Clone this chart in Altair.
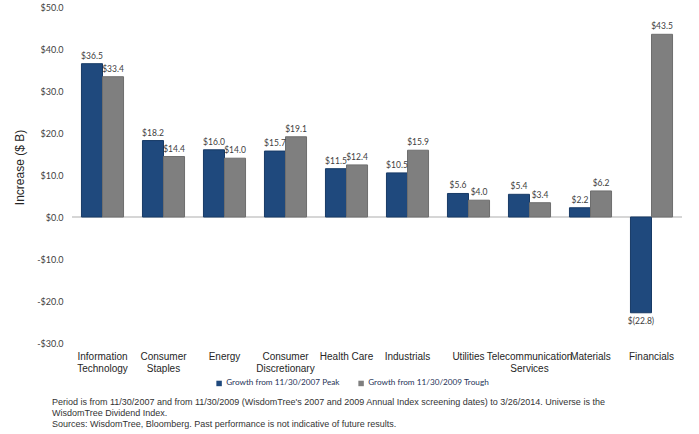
import altair as alt
import pandas as pd

categories = ["Information Technology", "Consumer Staples", "Energy", "Consumer Discretionary",
              "Health Care", "Industrials", "Utilities", "Telecommunication Services",
              "Materials", "Financials"]
peak = [36.5, 18.2, 16.0, 15.7, 11.5, 10.5, 5.6, 5.4, 2.2, -22.8]
trough = [33.4, 14.4, 14.0, 19.1, 12.4, 15.9, 4.0, 3.4, 6.2, 43.5]
series = ["Growth from 11/30/2007 Peak", "Growth from 11/30/2009 Trough"]
colors = ["#1F497D", "#7F7F7F"]
strokes = ["#173A66", "#6E6E6E"]
y_ticks = [-30, -20, -10, 0, 10, 20, 30, 40, 50]
footnote = [
    "Period is from 11/30/2007 and from 11/30/2009 (WisdomTree's 2007 and 2009 Annual Index screening dates) to 3/26/2014. Universe is the",
    "WisdomTree Dividend Index.",
    "Sources: WisdomTree, Bloomberg. Past performance is not indicative of future results.",
]

rows = []
for c, p, t in zip(categories, peak, trough):
    rows.append({"cat": c, "series": series[0], "v": p})
    rows.append({"cat": c, "series": series[1], "v": t})
df = pd.DataFrame(rows)

x_enc = alt.X("cat:N", sort=categories, title=None,
              scale=alt.Scale(paddingInner=0.31, paddingOuter=0.155),
              axis=alt.Axis(labelAngle=0, domain=False, ticks=False, labelPadding=8,
                            labelFont="Liberation Sans", labelFontSize=10, labelColor="#262626",
                            labelLineHeight=12, labelBaseline="top", labelLimit=200,
                            labelExpr="datum.label == 'Health Care' ? datum.label : split(datum.label, ' ')"))
xo_enc = alt.XOffset("series:N", sort=series, scale=alt.Scale(paddingInner=0, paddingOuter=0))
y_scale = alt.Scale(domain=[-30, 50], nice=False)

base = alt.Chart(df)

bars = base.mark_bar(strokeWidth=1).encode(
    x=x_enc,
    xOffset=xo_enc,
    y=alt.Y("v:Q", scale=y_scale, title="Increase ($ B)",
            axis=alt.Axis(values=y_ticks, grid=False, domain=False, ticks=False, labelPadding=9,
                          labelFont="Lato", labelFontSize=9, labelColor="#404040",
                          labelExpr="datum.value < 0 ? '-$' + format(-datum.value, '.1f') : '$' + format(datum.value, '.1f')",
                          titleFont="Liberation Sans", titleFontSize=12, titleFontWeight="normal",
                          titleColor="#262626", titleX=-53, titleY=160, titleAngle=-90,
                          titleAlign="center", titleBaseline="middle")),
    fill=alt.Fill("series:N", sort=series, scale=alt.Scale(domain=series, range=colors),
                  legend=alt.Legend(title=None, orient="none", legendX=143, legendY=372,
                                    direction="horizontal", symbolType="square", symbolSize=30,
                                    symbolStrokeWidth=0, labelFont="Lato", labelFontSize=8.2,
                                    labelColor="#1F3458", columnPadding=17, labelOffset=3)),
    stroke=alt.Stroke("series:N", scale=alt.Scale(domain=series, range=strokes), legend=None),
)

labels = base.transform_calculate(
    lab="datum.v < 0 ? '$(' + format(-datum.v, '.1f') + ')' : '$' + format(datum.v, '.1f')"
)
pos_labels = labels.transform_filter("datum.v >= 0").mark_text(
    baseline="bottom", dy=-3, font="Lato", fontSize=8.5, color="#404040"
).encode(x=alt.X("cat:N", sort=categories), xOffset=xo_enc, y=alt.Y("v:Q", scale=y_scale), text="lab:N")
neg_labels = labels.transform_filter("datum.v < 0").mark_text(
    baseline="top", dy=4, font="Lato", fontSize=8.5, color="#404040"
).encode(x=alt.X("cat:N", sort=categories), xOffset=xo_enc, y=alt.Y("v:Q", scale=y_scale), text="lab:N")

zero = alt.Chart(pd.DataFrame({"z": [0]})).mark_rule(color="#C8C8C8", strokeWidth=1.5).encode(
    y=alt.Y("z:Q", scale=y_scale)
)

chart = alt.layer(zero, bars, pos_labels, neg_labels).properties(
    width=610, height=336,
    autosize=alt.AutoSizeParams(type="none"),
    padding={"left": 72, "top": 7, "right": 17, "bottom": 91},
    title=alt.TitleParams(text=footnote, orient="bottom", anchor="start", frame="group",
                          dx=-20, offset=11, font="Liberation Sans", fontSize=9,
                          fontWeight="normal", color="#333333", lineHeight=11),
).configure(background="white").configure_view(stroke=None)

chart.save("out.html", embed_options={"renderer": "svg", "actions": False})
